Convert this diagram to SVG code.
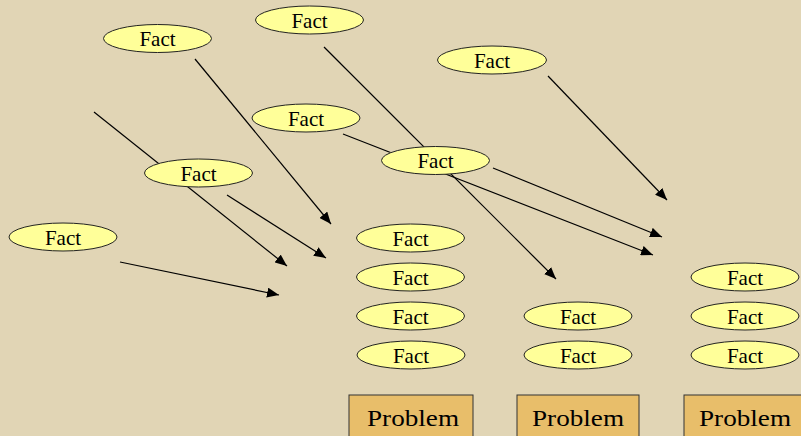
<svg xmlns="http://www.w3.org/2000/svg" width="801" height="436" viewBox="0 0 801 436">
<style>
.f ellipse{fill:#ffff99;stroke:#222;stroke-width:1}
.f text,.p text{font-family:"Liberation Serif","Times New Roman",serif;fill:#000;text-anchor:middle}
.f text{font-size:21px}
.p rect{fill:#e8be6a;stroke:#333;stroke-width:1}
.p text{font-size:23.5px}
#edges line{stroke:#000;stroke-width:1.2;marker-end:url(#ah)}
</style>
<defs>
<marker id="ah" viewBox="0 0 12 10" refX="12" refY="5" markerWidth="12" markerHeight="10" markerUnits="userSpaceOnUse" orient="auto">
<path d="M0,0 L12,5 L0,10 z" fill="#000"/>
</marker>
</defs>
<rect width="801" height="436" fill="#e1d5b5"/>
<g id="edges">
<line x1="195" y1="59" x2="331" y2="224"/>
<line x1="94" y1="112" x2="287" y2="266"/>
<line x1="227" y1="195" x2="326" y2="258"/>
<line x1="120" y1="262" x2="279" y2="295"/>
<line x1="324" y1="47" x2="556" y2="279"/>
<line x1="343" y1="134" x2="653" y2="255"/>
<line x1="493" y1="168" x2="662" y2="237"/>
<line x1="548" y1="76" x2="667" y2="200"/>
</g>
<g id="fact1" class="f"><ellipse cx="157.5" cy="38.5" rx="54" ry="14"/><text x="157.5" y="46">Fact</text></g>
<g id="fact2" class="f"><ellipse cx="309.5" cy="20" rx="54" ry="14"/><text x="309.5" y="27.5">Fact</text></g>
<g id="fact3" class="f"><ellipse cx="492" cy="60" rx="54.5" ry="14"/><text x="492" y="67.5">Fact</text></g>
<g id="fact4" class="f"><ellipse cx="306" cy="118" rx="54" ry="14"/><text x="306" y="125.5">Fact</text></g>
<g id="fact5" class="f"><ellipse cx="435.5" cy="160.5" rx="54" ry="14"/><text x="435.5" y="168">Fact</text></g>
<g id="fact6" class="f"><ellipse cx="198.5" cy="173" rx="54" ry="14"/><text x="198.5" y="180.5">Fact</text></g>
<g id="fact7" class="f"><ellipse cx="63" cy="237" rx="54" ry="14"/><text x="63" y="244.5">Fact</text></g>
<g id="fact8" class="f"><ellipse cx="410.5" cy="238" rx="54" ry="14"/><text x="410.5" y="245.5">Fact</text></g>
<g id="fact9" class="f"><ellipse cx="410.5" cy="277" rx="54" ry="14"/><text x="410.5" y="284.5">Fact</text></g>
<g id="fact10" class="f"><ellipse cx="410.5" cy="316" rx="54" ry="14"/><text x="410.5" y="323.5">Fact</text></g>
<g id="fact11" class="f"><ellipse cx="411" cy="355" rx="54" ry="14"/><text x="411" y="362.5">Fact</text></g>
<g id="fact12" class="f"><ellipse cx="578" cy="316" rx="54" ry="14"/><text x="578" y="323.5">Fact</text></g>
<g id="fact13" class="f"><ellipse cx="578" cy="355" rx="54" ry="14"/><text x="578" y="362.5">Fact</text></g>
<g id="fact14" class="f"><ellipse cx="745" cy="277" rx="54" ry="14"/><text x="745" y="284.5">Fact</text></g>
<g id="fact15" class="f"><ellipse cx="745" cy="316" rx="54" ry="14"/><text x="745" y="323.5">Fact</text></g>
<g id="fact16" class="f"><ellipse cx="745" cy="355" rx="54" ry="14"/><text x="745" y="362.5">Fact</text></g>
<g id="problem1" class="p"><rect x="349" y="395" width="124" height="50"/><text x="413" y="426" textLength="92" lengthAdjust="spacingAndGlyphs">Problem</text></g>
<g id="problem2" class="p"><rect x="517" y="395" width="122" height="50"/><text x="578" y="426" textLength="92" lengthAdjust="spacingAndGlyphs">Problem</text></g>
<g id="problem3" class="p"><rect x="684" y="395" width="122" height="50"/><text x="745" y="426" textLength="92" lengthAdjust="spacingAndGlyphs">Problem</text></g>
</svg>
